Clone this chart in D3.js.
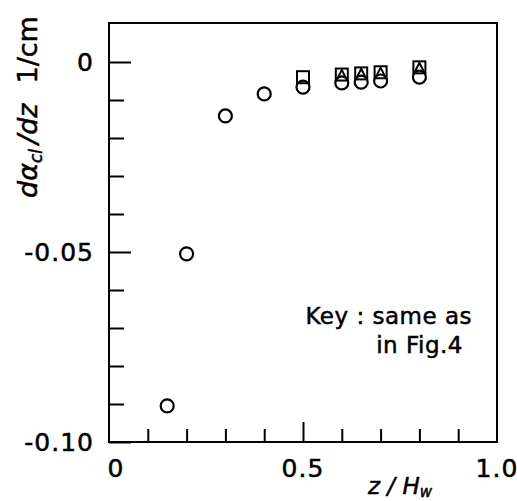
<!DOCTYPE html>
<html><head><meta charset="utf-8">
<script src="https://cdn.jsdelivr.net/npm/d3@7"></script>
<style>
body{margin:0;background:#fff;}
text{font-family:"DejaVu Sans",sans-serif;fill:#000;stroke:#000;stroke-width:0.5px;}
</style></head>
<body>
<svg id="c" width="517" height="501"></svg>
<script>
// Data
const circleZ = [0.15, 0.2, 0.3, 0.4, 0.5, 0.6, 0.65, 0.7, 0.8];
const circleV = [-0.0905, -0.0505, -0.0142, -0.0084, -0.0066, -0.0055, -0.0053, -0.0050, -0.0040];
const squareZ = [0.5, 0.6, 0.65, 0.7, 0.8];
const squareV = [-0.0040, -0.0033, -0.0030, -0.0027, -0.0014];
const triangleZ = [0.6, 0.65, 0.7, 0.8];
const triangleV = [-0.0034, -0.0031, -0.0028, -0.0015];
const xMajorTicks = [0, 0.5, 1.0];
const xMajorLabels = ["0", "0.5", "1.0"];
const xMinorTicks = [0.1, 0.2, 0.3, 0.4, 0.6, 0.7, 0.8, 0.9];
const yMajorTicks = [0, -0.05, -0.10];
const yMajorLabels = ["0", "-0.05", "-0.10"];
const yMinorTicks = [-0.01, -0.02, -0.03, -0.04, -0.06, -0.07, -0.08, -0.09];

const svg = d3.select("#c");
const L = 109, R = 497, T = 23, B = 442;
const x = d3.scaleLinear().domain([0, 1]).range([L, R]);
const y = d3.scaleLinear().domain([-0.10, 0]).range([B, 62]);

// frame
svg.append("rect").attr("x", L).attr("y", T).attr("width", R - L).attr("height", B - T)
  .attr("fill", "none").attr("stroke", "#000").attr("stroke-width", 2);

function styleAxis(g){
  g.select(".domain").remove();
  g.selectAll(".tick line").attr("stroke", "#000").attr("stroke-width", 2);
  g.selectAll(".tick text").remove();
}
// y ticks (inward)
svg.append("g").attr("transform", `translate(${L},0)`)
  .call(d3.axisLeft(y).tickValues(yMajorTicks).tickSize(-22)).call(styleAxis);
svg.append("g").attr("transform", `translate(${L},0)`)
  .call(d3.axisLeft(y).tickValues(yMinorTicks).tickSize(-15)).call(styleAxis);
// x ticks (inward)
svg.append("g").attr("transform", `translate(0,${B})`)
  .call(d3.axisBottom(x).tickValues([0.5]).tickSize(-20)).call(styleAxis);
svg.append("g").attr("transform", `translate(0,${B})`)
  .call(d3.axisBottom(x).tickValues(xMinorTicks).tickSize(-13)).call(styleAxis);

// tick labels
svg.selectAll("text.ylab").data(yMajorTicks).enter().append("text")
  .attr("class", "ylab")
  .attr("x", 94).attr("y", d => y(d) + 9)
  .attr("text-anchor", "end").attr("font-size", 25).attr("letter-spacing", 1)
  .text((d, i) => yMajorLabels[i]);
svg.selectAll("text.xlab").data(xMajorTicks).enter().append("text")
  .attr("class", "xlab")
  .attr("x", d => x(d) + (d === 0 ? 7 : 0)).attr("y", 477)
  .attr("text-anchor", "middle").attr("font-size", 25).attr("letter-spacing", 1)
  .text((d, i) => xMajorLabels[i]);

// axis titles
const xt = svg.append("text").attr("x", 400).attr("y", 494).attr("text-anchor", "middle")
  .attr("font-size", 23).attr("font-style", "italic");
xt.append("tspan").text("z / H");
xt.append("tspan").attr("font-size", 15).attr("dy", 3).text("w");

const yt = svg.append("text").attr("transform", "translate(37,107) rotate(-90)")
  .attr("text-anchor", "middle").attr("font-size", 27);
yt.append("tspan").attr("font-style", "italic").text("dα");
yt.append("tspan").attr("font-style", "italic").attr("font-size", 17).attr("dy", 5).text("cl");
yt.append("tspan").attr("font-style", "italic").attr("dy", -5).attr("dx", 5).text("/dz");
yt.append("tspan").attr("dx", 20).text("1/cm");

// key text
svg.append("text").attr("x", 472).attr("y", 324).attr("text-anchor", "end")
  .attr("font-size", 23).attr("letter-spacing", 0.5).text("Key : same as");
svg.append("text").attr("x", 463).attr("y", 353).attr("text-anchor", "end")
  .attr("font-size", 23).attr("letter-spacing", 0.5).text("in Fig.4");

// markers
const circles = circleZ.map((z, i) => ({z, v: circleV[i]}));
const squares = squareZ.map((z, i) => ({z, v: squareV[i]}));
const tris = triangleZ.map((z, i) => ({z, v: triangleV[i]}));

svg.selectAll("circle.ci").data(circles).enter().append("circle").attr("class", "ci")
  .attr("cx", d => x(d.z)).attr("cy", d => y(d.v)).attr("r", 6.5)
  .attr("fill", "none").attr("stroke", "#000").attr("stroke-width", 2.2);
svg.selectAll("rect.sq").data(squares).enter().append("rect").attr("class", "sq")
  .attr("x", d => x(d.z) - 6).attr("y", d => y(d.v) - 6)
  .attr("width", 12).attr("height", 12)
  .attr("fill", "none").attr("stroke", "#000").attr("stroke-width", 2);
svg.selectAll("path.tri").data(tris).enter().append("path").attr("class", "tri")
  .attr("transform", d => `translate(${x(d.z)},${y(d.v)})`)
  .attr("d", "M-5,5 L0,-5 L5,5")
  .attr("fill", "none").attr("stroke", "#000").attr("stroke-width", 2);
</script>
</body></html>
